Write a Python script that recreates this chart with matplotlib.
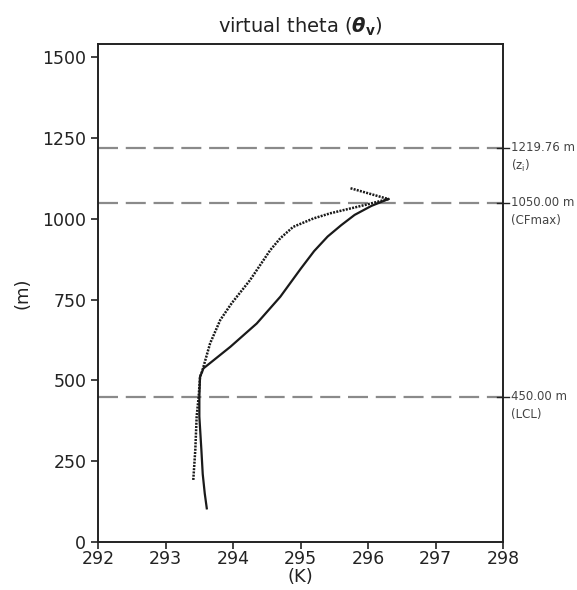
import numpy as np
import matplotlib
matplotlib.use("Agg")
import matplotlib.pyplot as plt
import matplotlib.transforms as mtrans

# virtual potential temperature profiles (K) against height (m)
theta_solid = [293.61, 293.58, 293.55, 293.53, 293.50, 293.50, 293.51, 293.56,
               293.96, 294.35, 294.70, 295.00, 295.20, 295.40, 295.60,
               295.80, 296.05, 296.30]
z_solid = [104, 150, 210, 285, 388, 450, 511, 537,
           604, 676, 759, 845, 900, 945, 980,
           1012, 1040, 1061]

theta_dot = [293.41, 293.44, 293.46, 293.49, 293.51, 293.54, 293.66,
             293.81, 293.98, 294.25, 294.55, 294.70, 294.89, 295.19,
             295.44, 295.90, 296.30, 295.73]
z_dot = [192, 285, 388, 450, 511, 527, 615,
         687, 739, 810, 903, 940, 975, 1001,
         1017, 1040, 1061, 1095]

# reference levels drawn as dashed lines
levels = [1219.76, 1050.00, 450.00]
level_names = ["(z$_\\mathregular{i}$)", "(CFmax)", "(LCL)"]

xticks = [292, 293, 294, 295, 296, 297, 298]
yticks = [0, 250, 500, 750, 1000, 1250, 1500]

fig = plt.figure(figsize=(5.77, 5.90), dpi=100)
ax = fig.add_axes([0.170, 0.0814, 0.702, 0.8436])

for lev in levels:
    ax.axhline(lev, color="#8a8a8a", lw=1.6, dashes=(9, 3.5), zorder=1)

ax.plot(theta_solid, z_solid, color="#1a1a1a", lw=1.6, zorder=3)
ax.plot(theta_dot, z_dot, color="#1a1a1a", lw=1.8, ls=(0, (0.8, 0.5)), zorder=3)

ax.set_xlim(292, 298)
ax.set_ylim(0, 1540)
ax.set_xticks(xticks)
ax.set_yticks(yticks)
ax.tick_params(direction="out", length=5, width=1.2, labelsize=12.5,
               colors="#222222")
ax.tick_params(axis="x", pad=1)
for s in ax.spines.values():
    s.set_linewidth(1.4)
    s.set_color("#222222")

# small marks on the right spine at each level
trans = mtrans.blended_transform_factory(ax.transAxes, ax.transData)
for lev, name in zip(levels, level_names):
    ax.plot([0.985, 1.015], [lev, lev], color="#222222", lw=1.0,
            transform=trans, clip_on=False)
    ax.text(1.02, lev, "%.2f m" % lev, transform=trans, fontsize=8.5,
            color="#444444", va="center", ha="left")
    ax.text(1.02, lev - 55, name, transform=trans, fontsize=8.5,
            color="#444444", va="center", ha="left")

ax.set_title(r"virtual theta ($\boldsymbol{\theta}_{\mathbf{v}}$)",
             fontsize=14, color="#222222", pad=8)
ax.set_xlabel("(K)", fontsize=13, color="#222222", labelpad=0)
ax.set_ylabel("(m)", fontsize=13, color="#222222", labelpad=8)

fig.savefig("out.png", dpi=100)
